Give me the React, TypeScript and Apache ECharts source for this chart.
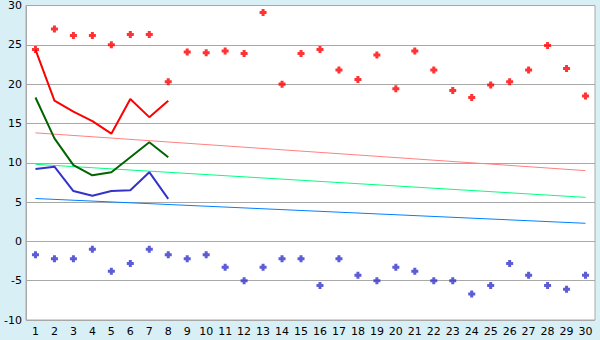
import React, { useEffect, useRef } from "react";
import * as echarts from "echarts";

const categories = Array.from({ length: 30 }, (_, i) => String(i + 1));

const redPoints = [24.4, 27.0, 26.2, 26.2, 25.0, 26.3, 26.3, 20.3, 24.1, 24.0,
  24.2, 23.9, 29.1, 20.0, 23.9, 24.4, 21.8, 20.6, 23.7, 19.4,
  24.2, 21.8, 19.2, 18.3, 19.9, 20.3, 21.8, 24.9, 22.0, 18.5];

const bluePoints = [-1.7, -2.2, -2.2, -1.0, -3.8, -2.8, -1.0, -1.7, -2.2, -1.7,
  -3.3, -5.0, -3.3, -2.2, -2.2, -5.6, -2.2, -4.3, -5.0, -3.3,
  -3.8, -5.0, -5.0, -6.7, -5.6, -2.8, -4.3, -5.6, -6.1, -4.3];

const redLine = [24.4, 17.9, 16.5, 15.3, 13.7, 18.1, 15.8, 17.9];
const greenLine = [18.3, 13.1, 9.7, 8.4, 8.8, 10.7, 12.6, 10.7];
const blueLine = [9.2, 9.5, 6.4, 5.8, 6.4, 6.5, 8.8, 5.4];

const pinkTrend = [["1", 13.8], ["30", 9.0]];
const greenTrend = [["1", 9.8], ["30", 5.6]];
const blueTrend = [["1", 5.45], ["30", 2.3]];

const yMin = -10;
const yMax = 30;
const yInterval = 5;

const crossSymbol = "path://M2,0h3v2h2v3h-2v2h-3v-2h-2v-3h2z";

export default function App() {
  const ref = useRef<HTMLDivElement>(null);
  useEffect(() => {
    if (!ref.current) return;
    const chart = echarts.init(ref.current, undefined, { renderer: "svg" });
    const font = "DejaVu Sans";
    chart.setOption({
      animation: false,
      backgroundColor: "#d9eff6",
      grid: {
        left: 26, top: 5, right: 5, bottom: 20,
        show: true, backgroundColor: "#ffffff", borderColor: "#aaaaaa", borderWidth: 1,
      },
      xAxis: {
        type: "category",
        data: categories,
        boundaryGap: true,
        axisLine: { lineStyle: { color: "#aaaaaa" } },
        axisTick: { alignWithLabel: true, length: 5, lineStyle: { color: "#222" } },
        axisLabel: { color: "#000", fontFamily: font, fontSize: 11, margin: 6, interval: 0 },
        splitLine: { show: false },
      },
      yAxis: {
        type: "value",
        min: yMin, max: yMax, interval: yInterval,
        axisLine: { show: true, lineStyle: { color: "#aaaaaa" } },
        axisTick: { show: false },
        axisLabel: { color: "#000", fontFamily: font, fontSize: 11, margin: 4 },
        splitLine: { lineStyle: { color: "#a8a8a8", width: 1 } },
      },
      series: [
        { type: "line", data: pinkTrend, symbol: "none", lineStyle: { color: "#ff8080", width: 1 } },
        { type: "line", data: greenTrend, symbol: "none", lineStyle: { color: "#00ff80", width: 1 } },
        { type: "line", data: blueTrend, symbol: "none", lineStyle: { color: "#0080ff", width: 1 } },
        { type: "line", data: redLine, symbol: "none", lineStyle: { color: "#ff0000", width: 2 } },
        { type: "line", data: greenLine, symbol: "none", lineStyle: { color: "#006400", width: 2 } },
        { type: "line", data: blueLine, symbol: "none", lineStyle: { color: "#3333cc", width: 2 } },
        { type: "scatter", data: redPoints, symbol: crossSymbol, symbolSize: 7, itemStyle: { color: "#ff0000" } },
        { type: "scatter", data: bluePoints, symbol: crossSymbol, symbolSize: 7, itemStyle: { color: "#3333cc" } },
      ],
    });
    return () => chart.dispose();
  }, []);
  return <div ref={ref} style={{ position: "fixed", left: 0, top: 0, width: 600, height: 340 }} />;
}
